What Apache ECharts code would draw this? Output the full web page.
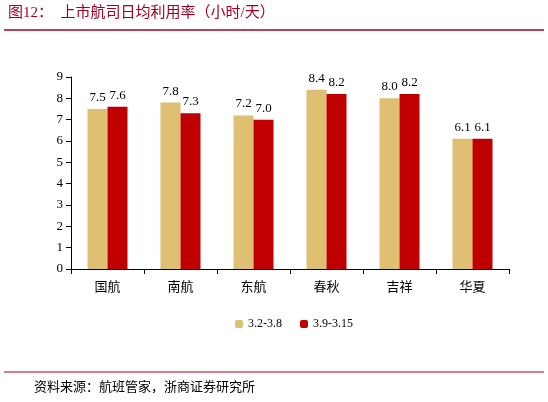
<!DOCTYPE html>
<html><head><meta charset="utf-8">
<script src="https://cdn.jsdelivr.net/npm/echarts@6/dist/echarts.min.js"></script>
<style>html,body{margin:0;padding:0;background:#fff}#c{width:548px;height:402px}</style>
</head><body><div id="c"></div>
<script>
const categories = ['国航','南航','东航','春秋','吉祥','华夏'];
const seriesNames = ['3.2-3.8','3.9-3.15'];
const week1 = [7.5,7.8,7.2,8.4,8.0,6.1];
const week2 = [7.6,7.3,7.0,8.2,8.2,6.1];
const titleText = '图12：  上市航司日均利用率（小时/天）';
const sourceText = '资料来源：航班管家，浙商证券研究所';
const cjk = '"Liberation Serif","Noto Sans CJK SC",serif';
const chart = echarts.init(document.getElementById('c'));
chart.setOption({
  animation:false,
  textStyle:{fontFamily:cjk},
  graphic:[
    {type:'text',left:8,top:6,style:{text:titleText,fill:'#A50021',font:'15px '+cjk}},
    {type:'line',shape:{x1:4,y1:30,x2:544,y2:30},style:{stroke:'#A50021',lineWidth:1.5}},
    {type:'line',shape:{x1:4,y1:372,x2:544,y2:372},style:{stroke:'#A50021',lineWidth:1}},
    {type:'text',left:34,top:381,style:{text:sourceText,fill:'#000',font:'13px '+cjk}}
  ],
  legend:{top:313,left:230,itemWidth:8,itemHeight:8,itemGap:18,
    textStyle:{fontSize:12,color:'#000',fontFamily:cjk},data:seriesNames},
  grid:{left:71,right:39,top:77,bottom:133},
  xAxis:{type:'category',data:categories,
    axisLine:{lineStyle:{color:'#000'}},axisTick:{show:true,alignWithLabel:false,lineStyle:{color:'#000'}},
    axisLabel:{color:'#000',fontSize:13,fontFamily:cjk,margin:12}},
  yAxis:{type:'value',min:0,max:9,interval:1,splitLine:{show:false},
    axisLine:{show:true,lineStyle:{color:'#000'}},axisTick:{show:true,lineStyle:{color:'#000'}},
    axisLabel:{color:'#000',fontSize:13,fontFamily:cjk}},
  series:[
    {name:seriesNames[0],type:'bar',data:week1,barWidth:20,barGap:'0%',itemStyle:{color:'#DFC072'},
     label:{show:true,position:'top',color:'#000',fontSize:13,fontFamily:cjk,formatter:p=>p.value.toFixed(1)}},
    {name:seriesNames[1],type:'bar',data:week2,barWidth:20,itemStyle:{color:'#C00000'},
     label:{show:true,position:'top',color:'#000',fontSize:13,fontFamily:cjk,formatter:p=>p.value.toFixed(1)}}
  ]
});
</script></body></html>
